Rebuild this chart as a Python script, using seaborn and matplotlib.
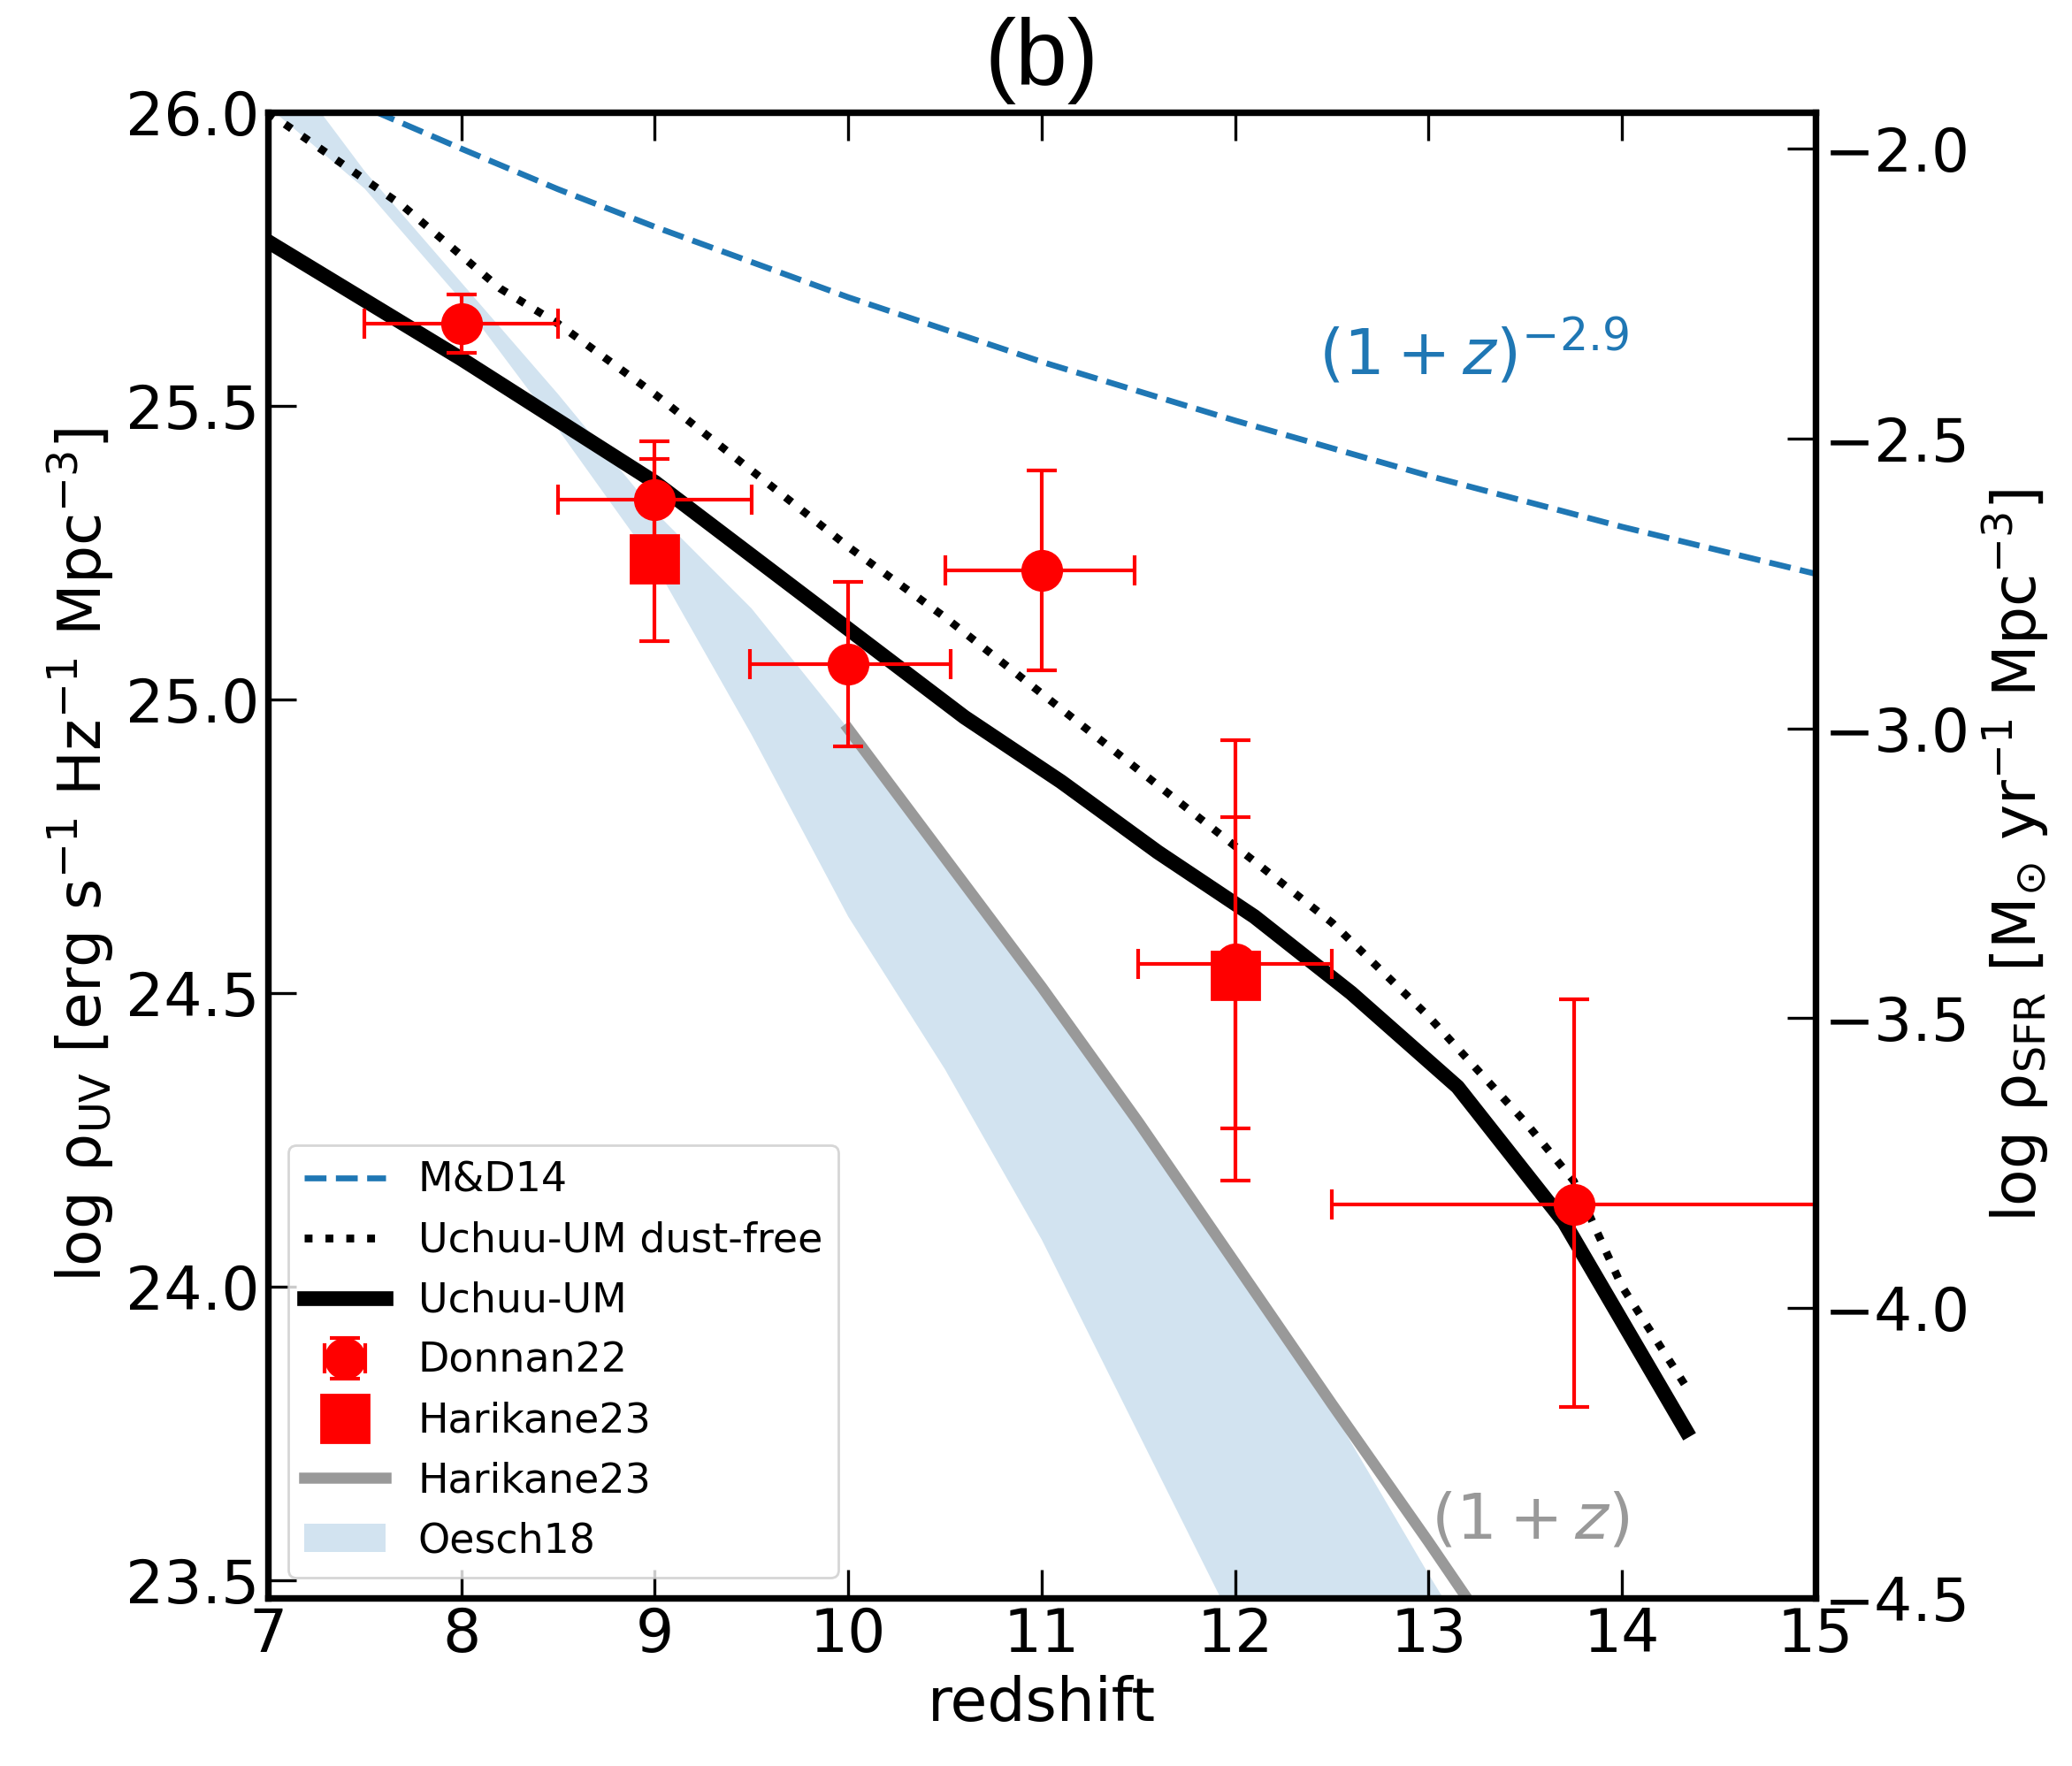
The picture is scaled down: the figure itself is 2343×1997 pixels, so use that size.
import matplotlib
matplotlib.use("Agg")
import matplotlib.pyplot as plt
import seaborn as sns
import pandas as pd

# ---------------- data ----------------
md14_z = [7.4, 7.5, 8.0, 8.5, 9.0, 10.0, 11.0, 12.0, 13.0, 14.0, 15.0]
md14_y = [26.023, 26.009, 25.938, 25.869, 25.805, 25.685, 25.575, 25.475, 25.381, 25.294, 25.214]

umfree_z = [7.0, 7.7, 8.2, 8.5, 9.0, 9.5, 10.0, 10.5, 11.0, 11.5, 12.0, 12.5, 13.0, 13.5, 13.75, 14.0, 14.33]
umfree_y = [26.0, 25.84, 25.70, 25.64, 25.52, 25.39, 25.26, 25.14, 25.01, 24.88, 24.75, 24.62, 24.46, 24.28, 24.18, 24.00, 23.83]

um_z = [7.0, 7.5, 8.0, 8.5, 9.0, 9.5, 10.0, 10.6, 11.1, 11.6, 12.1, 12.6, 13.15, 13.7, 14.33]
um_y = [25.78, 25.68, 25.58, 25.475, 25.37, 25.245, 25.12, 24.97, 24.86, 24.74, 24.63, 24.50, 24.34, 24.11, 23.755]

h23line_z = [10.0, 10.5, 11.0, 11.5, 12.0, 12.5, 13.0, 13.3]
h23line_y = [24.95, 24.73, 24.51, 24.28, 24.04, 23.80, 23.565, 23.42]

oesch_z = [7.0, 7.5, 8.0, 8.5, 9.0, 9.5, 10.0, 10.5, 11.0, 11.5, 12.0, 12.5, 13.0, 13.5]
oesch_hi = [26.12, 25.90, 25.71, 25.52, 25.32, 25.155, 24.95, 24.73, 24.51, 24.28, 24.04, 23.79, 23.51, 23.24]
oesch_lo = [26.01, 25.87, 25.68, 25.46, 25.23, 24.94, 24.63, 24.37, 24.08, 23.75, 23.42, 23.09, 22.80, 22.50]

don_z = [8.0, 9.0, 10.0, 11.0, 12.0, 13.75]
don_y = [25.64, 25.34, 25.06, 25.22, 24.55, 24.14]
don_ylo = [0.05, 0.10, 0.14, 0.17, 0.37, 0.345]
don_yhi = [0.05, 0.10, 0.14, 0.17, 0.38, 0.35]
don_xlo = [0.50, 0.50, 0.51, 0.50, 0.50, 1.25]
don_xhi = [0.50, 0.50, 0.53, 0.48, 0.50, 1.25]

har_z = [9.0, 12.0]
har_y = [25.24, 24.53]
har_ylo = [0.14, 0.26]
har_yhi = [0.17, 0.27]

xticks = [7, 8, 9, 10, 11, 12, 13, 14, 15]
yticks_left = [23.5, 24.0, 24.5, 25.0, 25.5, 26.0]
yticks_right = [-4.5, -4.0, -3.5, -3.0, -2.5, -2.0]

# ---------------- style ----------------
plt.rcParams["font.family"] = ["DejaVu Sans"]
plt.rcParams["mathtext.fontset"] = "dejavusans"
plt.rcParams["axes.linewidth"] = 2.6

C0 = "#1f77b4"
GRAY = "#999999"

fig = plt.figure(figsize=(2343 / 200, 1997 / 200), dpi=200)
ax = fig.add_axes([0.1293, 0.0953, 0.8762 - 0.1293, 0.9364 - 0.0953])

# Oesch18 band
band = ax.fill_between(oesch_z, oesch_lo, oesch_hi, color=C0, alpha=0.2, lw=0, zorder=1)

# Harikane23 (1+z) line
sns.lineplot(data=pd.DataFrame({"z": h23line_z, "y": h23line_y}), x="z", y="y",
             ax=ax, color=GRAY, lw=4.5, zorder=2)
ln_h23 = ax.lines[-1]

# M&D14
sns.lineplot(data=pd.DataFrame({"z": md14_z, "y": md14_y}), x="z", y="y",
             ax=ax, color=C0, lw=2.4, linestyle="--", zorder=2)
ln_md = ax.lines[-1]

# Uchuu-UM dust-free
sns.lineplot(data=pd.DataFrame({"z": umfree_z, "y": umfree_y}), x="z", y="y",
             ax=ax, color="black", lw=3.2, linestyle=":", zorder=2)
ln_free = ax.lines[-1]

# Uchuu-UM
sns.lineplot(data=pd.DataFrame({"z": um_z, "y": um_y}), x="z", y="y",
             ax=ax, color="black", lw=6, zorder=2)
ln_um = ax.lines[-1]

# Harikane23 points
ax.errorbar(har_z, har_y, yerr=[har_ylo, har_yhi], fmt="none", ecolor="red",
            elinewidth=1.5, capsize=6.1, capthick=1.5, zorder=3)
ln_har, = ax.plot(har_z, har_y, "s", color="red", ms=19.5, zorder=4)

# Donnan22 points
eb_don = ax.errorbar(don_z, don_y, xerr=[don_xlo, don_xhi], yerr=[don_ylo, don_yhi],
                     fmt="o", color="red", ms=16, elinewidth=1.5, capsize=6.1,
                     capthick=1.5, zorder=4)

# annotations
ax.text(12.43, 25.59, r"$(1+z)^{-2.9}$", color=C0, fontsize=26, ha="left", va="center")
ax.text(13.01, 23.60, r"$(1+z)$", color=GRAY, fontsize=26, ha="left", va="center")

ax.set_xlim(7, 15)
ax.set_ylim(23.47, 26.0)
ax.set_xticks(xticks)
ax.set_yticks(yticks_left)
ax.set_yticklabels([f"{v:.1f}" for v in yticks_left])
ax.tick_params(axis="both", which="both", direction="in", length=11.5, width=1.2,
               labelsize=24.5, top=True, right=False, colors="black")
ax.set_xlabel("redshift", fontsize=24.5, color="black")
ax.set_ylabel("log ρ$_{\\rm UV}$ [erg s$^{-1}$ Hz$^{-1}$ Mpc$^{-3}$]", fontsize=24.5,
              color="black")
ax.set_title("(b)", fontsize=38, pad=11, color="black",
             family=["Liberation Sans", "DejaVu Sans"])

ax2 = ax.twinx()
ax2.set_ylim(-4.5, -1.937)
ax2.set_yticks(yticks_right)
ax2.set_yticklabels([f"{v:.1f}".replace("-", "\u2212") for v in yticks_right])
ax2.tick_params(axis="y", direction="in", length=11.5, width=1.2, labelsize=24.5,
                colors="black")
ax2.set_ylabel("log ρ$_{\\rm SFR}$ [M$_{\\odot}$ yr$^{-1}$ Mpc$^{-3}$]", fontsize=24.5,
               color="black")
for a in (ax, ax2):
    for s in a.spines.values():
        s.set_linewidth(2.6)
        s.set_color("black")

handles = [ln_md, ln_free, ln_um, eb_don, ln_har, ln_h23, band]
labels = ["M&D14", "Uchuu-UM dust-free", "Uchuu-UM", "Donnan22", "Harikane23",
          "Harikane23", "Oesch18"]
ax.legend(handles, labels, loc="lower left", fontsize=16.5)

fig.savefig("out.png", dpi=200)
